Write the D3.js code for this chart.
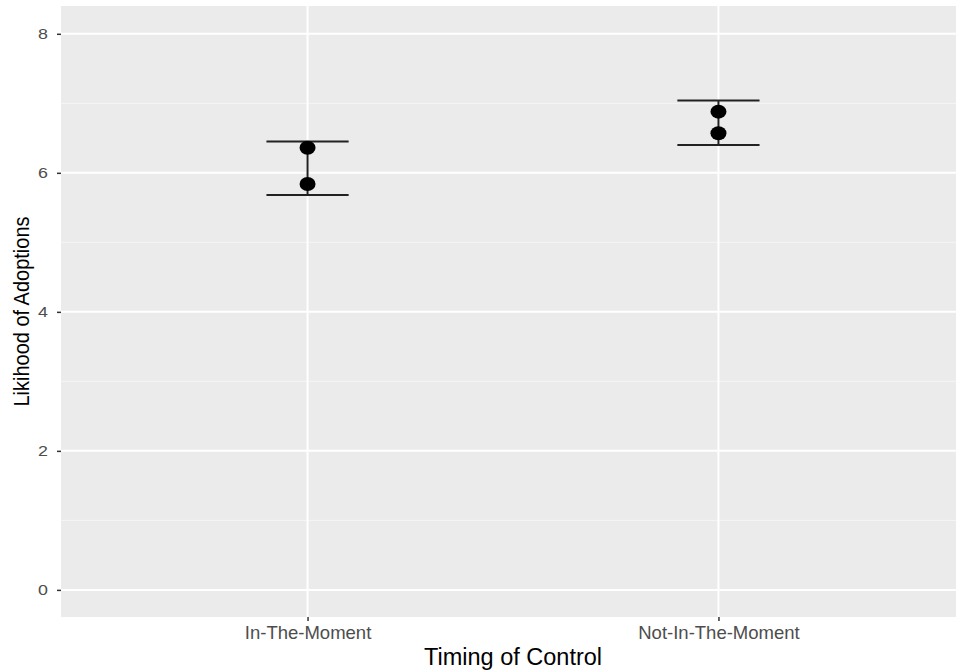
<!DOCTYPE html>
<html>
<head>
<meta charset="utf-8">
<script src="https://cdn.jsdelivr.net/npm/d3@7"></script>
<style>
  body { margin: 0; background: #fff; }
  text { font-family: "Liberation Sans", Arial, sans-serif; }
</style>
</head>
<body>
<script>
    // data
    const categories = ["In-The-Moment", "Not-In-The-Moment"];
    const pointsHigh = [6.36, 6.88];
    const pointsLow = [5.84, 6.57];
    const ciLow = [5.68, 6.40];
    const ciHigh = [6.45, 7.04];
    const yTicks = [0, 2, 4, 6, 8];
    const yMinor = [1, 3, 5, 7];
    const yLimits = [-0.39, 8.4];

    const W = 956, H = 671;

    //panel position (right side is cut off in the original)
    const m = { top: 6, right: -9, bottom: 54, left: 61 };
    const w = W - m.left - m.right;
    const h = H - m.top - m.bottom;

    const svg = d3.select("body").append("svg")
        .attr("width", W)
        .attr("height", H);

    const g = svg.append("g").attr("transform", "translate(" + m.left + "," + m.top + ")");

    // discrete x like ggplot (0.6 expansion on each side)
    const xScale = d3.scalePoint()
        .domain(categories)
        .range([0, w])
        .padding(0.6);

    const yScale = d3.scaleLinear()
        .domain(yLimits)
        .range([h, 0]);

    // panel background
    g.append("rect")
        .attr("width", w)
        .attr("height", h)
        .attr("fill", "#ebebeb");

    // minor grid
    g.selectAll(".minor")
        .data(yMinor)
        .enter()
        .append("line")
        .attr("x1", 0).attr("x2", w)
        .attr("y1", d => yScale(d)).attr("y2", d => yScale(d))
        .attr("stroke", "#f5f5f5")
        .attr("stroke-width", 1);

    // major grid
    g.selectAll(".major")
        .data(yTicks)
        .enter()
        .append("line")
        .attr("x1", 0).attr("x2", w)
        .attr("y1", d => yScale(d)).attr("y2", d => yScale(d))
        .attr("stroke", "#fff")
        .attr("stroke-width", 2);

    g.selectAll(".vgrid")
        .data(categories)
        .enter()
        .append("line")
        .attr("x1", d => xScale(d)).attr("x2", d => xScale(d))
        .attr("y1", 0).attr("y2", h)
        .attr("stroke", "#fff")
        .attr("stroke-width", 2);

    // axes
    const xAxis = d3.axisBottom(xScale).tickSize(4).tickPadding(5);
    const gx = g.append("g")
        .attr("transform", "translate(0," + h + ")")
        .call(xAxis);

    const yAxis = d3.axisLeft(yScale).tickValues(yTicks).tickSize(4).tickPadding(9);
    const gy = g.append("g").call(yAxis);

    [gx, gy].forEach(a => {
        a.select(".domain").remove();
        a.selectAll(".tick line").attr("stroke", "#333").attr("stroke-width", 1.5);
        a.selectAll(".tick text")
            .attr("fill", "#4d4d4d")
            .attr("font-family", "Liberation Sans, Arial, sans-serif");
    });
    gx.selectAll(".tick text").attr("font-size", 18.5);
    // y labels look a bit wider than tall in the original
    gy.selectAll(".tick text")
        .attr("font-size", 15.5)
        .attr("transform", "translate(-13,0) scale(1.15,1) translate(13,0)");

    // error bars
    const capHalf = (xScale(categories[1]) - xScale(categories[0])) * 0.1;
    const bars = g.selectAll(".err")
        .data(categories)
        .enter()
        .append("g");

    bars.append("line")
        .attr("x1", d => xScale(d)).attr("x2", d => xScale(d))
        .attr("y1", (d, i) => yScale(ciLow[i])).attr("y2", (d, i) => yScale(ciHigh[i]))
        .attr("stroke", "#222").attr("stroke-width", 2);

    bars.append("line")
        .attr("x1", d => xScale(d) - capHalf).attr("x2", d => xScale(d) + capHalf)
        .attr("y1", (d, i) => yScale(ciHigh[i])).attr("y2", (d, i) => yScale(ciHigh[i]))
        .attr("stroke", "#222").attr("stroke-width", 2);

    bars.append("line")
        .attr("x1", d => xScale(d) - capHalf).attr("x2", d => xScale(d) + capHalf)
        .attr("y1", (d, i) => yScale(ciLow[i])).attr("y2", (d, i) => yScale(ciLow[i]))
        .attr("stroke", "#222").attr("stroke-width", 2);

    // points
    [pointsHigh, pointsLow].forEach(series => {
        g.selectAll(null)
            .data(series)
            .enter()
            .append("ellipse")
            .attr("cx", (d, i) => xScale(categories[i]))
            .attr("cy", d => yScale(d))
            .attr("rx", 8)
            .attr("ry", 7)
            .attr("fill", "#000");
    });

    // axis titles
    svg.append("text")
        .attr("x", m.left + w / 2)
        .attr("y", 665)
        .attr("text-anchor", "middle")
        .attr("font-size", 23.5)
        .attr("fill", "#000")
        .text("Timing of Control");

    svg.append("text")
        .attr("transform", "translate(29," + (m.top + h / 2) + ") scale(1.12,1) rotate(-90)")
        .attr("text-anchor", "middle")
        .attr("font-size", 20)
        .attr("fill", "#000")
        .text("Likihood of Adoptions");
</script>
</body>
</html>
